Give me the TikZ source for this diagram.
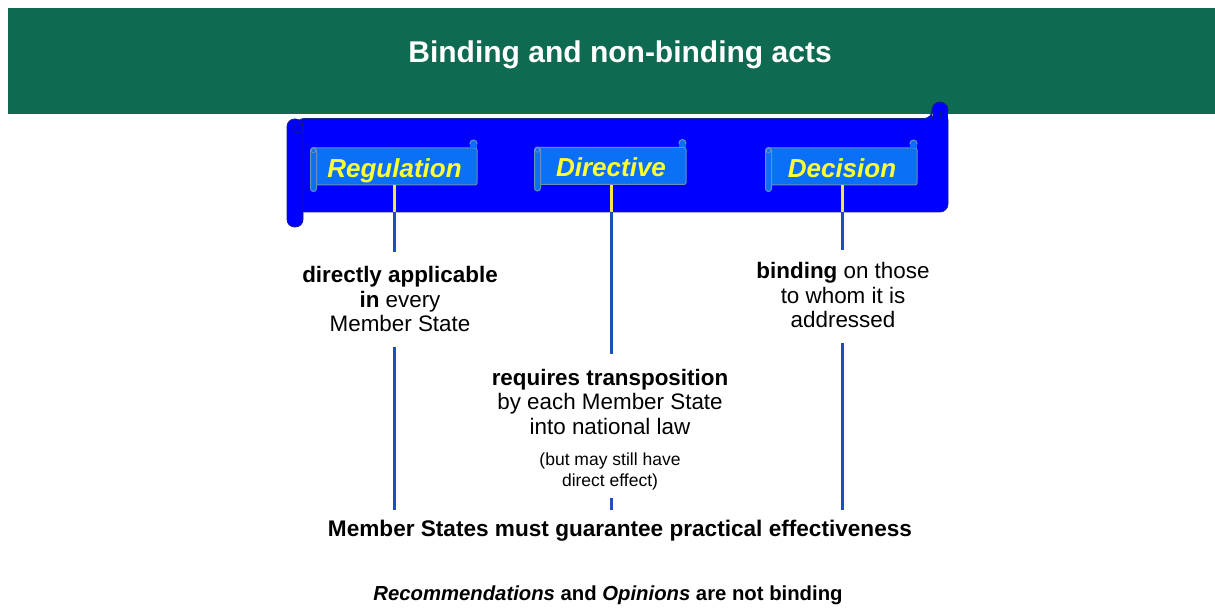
\documentclass[tikz,border=0pt]{standalone}
\usepackage{fontspec}
\setmainfont{Liberation Sans}
\definecolor{headgreen}{HTML}{0E6A50}
\definecolor{rollblue}{HTML}{0000FF}
\definecolor{rolledge}{HTML}{1A1A80}
\definecolor{tagblue}{HTML}{0A70F5}
\definecolor{tagedge}{HTML}{6A90B8}
\definecolor{tagtext}{HTML}{FFFF33}
\definecolor{linkblue}{HTML}{1F4FBF}
\definecolor{linkyellow}{HTML}{F2E64A}
\tikzset{
  tag/.style={draw=tagedge, fill=tagblue, line width=1pt, rounded corners=2pt,
    minimum height=37pt, inner sep=0pt, text height=22pt, text depth=0pt,
    text=tagtext, font=\fontsize{26}{28}\selectfont\bfseries\itshape},
  tagroll/.style={draw=tagedge, fill=tagblue, line width=1pt},
  body/.style={font=\fontsize{22.4}{24.5}\selectfont, align=center, inner sep=0pt},
  note/.style={font=\fontsize{17.5}{21}\selectfont, align=center, inner sep=0pt},
  link/.style={draw=linkblue, line width=3pt},
  ylink/.style={draw=linkyellow, line width=3pt},
  roll/.style={fill=rollblue, draw=rolledge, line width=0.7pt},
}
% small curls on a label scroll
\newcommand{\tagdeco}[1]{%
  \draw[tagroll] ([xshift=-4pt,yshift=4pt]#1.north east) circle[radius=3.5];
  \fill[tagblue] ([xshift=-7.5pt,yshift=-0.5pt]#1.north east) rectangle ([xshift=-0.5pt,yshift=3pt]#1.north east);
  \draw[tagroll, rounded corners=3pt] ([xshift=-1pt]#1.north west) rectangle ([xshift=5pt,yshift=-6pt]#1.south west);
  \draw[tagedge, line width=0.8pt] ([xshift=2pt,yshift=-3pt]#1.north west) circle[radius=2.2];
}
\begin{document}
\begin{tikzpicture}[x=1pt,y=-1pt]
\useasboundingbox (0,0) rectangle (1215,612);
\fill[white] (0,0) rectangle (1215,612);

% header band
\fill[headgreen] (8,8) rectangle (1215,114);
\node[text=white, font=\fontsize{30}{34}\selectfont\bfseries] (title) at (620,55) {Binding and non-binding acts};

% large scroll
\draw[roll] (940,110) circle[radius=8];
\draw[roll, rounded corners=8pt] (296,118.5) -- (932,118.5) -- (932,112) -- (948,112) -- (948,212) -- (296,212) -- cycle;
\fill[rollblue] (933,112) rectangle (947.5,125);
\draw[rolledge, line width=0.7pt] (940,112) -- (940,118.5);
\draw[roll, rounded corners=7.5pt] (287,119) rectangle (303,227);
\draw[rolledge, line width=0.7pt] (298,128) circle[radius=5];
\coordinate (sb) at (0,212);
\coordinate (lb) at (0,510);

% labels on the scroll
\node[tag, minimum width=165pt] (reg) at (394.5,166.5) {Regulation};
\node[tag, minimum width=150pt] (dir) at (611,166) {Directive};
\node[tag, minimum width=150pt] (dec) at (842,166.5) {Decision};
\tagdeco{reg}
\tagdeco{dir}
\tagdeco{dec}

% descriptions
\node[body, anchor=north] (regtxt) at (400,266.5) {\textbf{directly applicable}\\\textbf{in} every\\Member State};
\node[body, anchor=north] (dectxt) at (843,262.5) {\textbf{binding} on those\\to whom it is\\addressed};
\node[body, anchor=north] (dirtxt) at (610,369) {\textbf{requires transposition}\\by each Member State\\into national law};
\node[note, anchor=north] (dirnote) at (610,453) {(but may still have\\direct effect)};
\node[font=\fontsize{22.6}{26}\selectfont\bfseries] (common) at (620,531) {Member States must guarantee practical effectiveness};
\node[font=\fontsize{20.3}{24}\selectfont\bfseries] (soft) at (608,595) {\textit{Recommendations} and \textit{Opinions} are not binding};

% connector breaks
\coordinate (regtop) at (0,252);
\coordinate (regbot) at (0,347);
\coordinate (dirtop) at (0,354);
\coordinate (dirbot) at (0,498);
\coordinate (dectop) at (0,250);
\coordinate (decbot) at (0,343);

% connectors
\draw[ylink] (reg.south) -- (reg.south |- sb);
\draw[ylink] (dir.south) -- (dir.south |- sb);
\draw[ylink] (dec.south) -- (dec.south |- sb);
\draw[link] (reg.south |- sb) -- (reg.south |- regtop);
\draw[link] (reg.south |- regbot) -- (reg.south |- lb);
\draw[link] (dir.south |- sb) -- (dir.south |- dirtop);
\draw[link] (dir.south |- dirbot) -- (dir.south |- lb);
\draw[link] (dec.south |- sb) -- (dec.south |- dectop);
\draw[link] (dec.south |- decbot) -- (dec.south |- lb);
\end{tikzpicture}
\end{document}
